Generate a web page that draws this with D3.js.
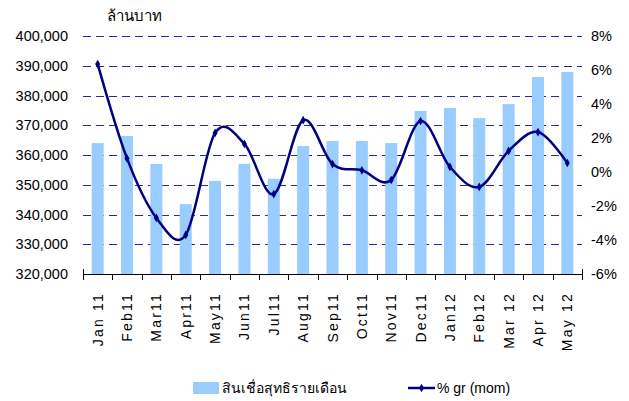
<!DOCTYPE html>
<html>
<head>
<meta charset="utf-8">
<script src="https://cdn.jsdelivr.net/npm/d3@7"></script>
<style>
  body { margin: 0; background: #fff; }
  text { font-family: "Liberation Sans", Arial, sans-serif; fill: #000; }
</style>
</head>
<body>
<div id="chart"></div>
<script>
// data
const months = ["Jan 11", "Feb11", "Mar11", "Apr11", "May11", "Jun11", "Jul11", "Aug11", "Sep11",
                "Oct11", "Nov11", "Dec11", "Jan12", "Feb12", "Mar 12", "Apr 12", "May 12"];
const loans = [364000, 366400, 357000, 343500, 351300, 357000, 352000, 363000, 364700,
               364700, 364000, 374800, 375800, 372400, 377100, 386200, 387900];
const growth = [6.35, 0.8, -2.7, -3.7, 2.3, 1.65, -1.3, 3.05, 0.47,
                0.1, -0.47, 3.0, 0.3, -0.88, 1.24, 2.35, 0.53];
const leftTicks = [320000, 330000, 340000, 350000, 360000, 370000, 380000, 390000, 400000];
const rightTicks = [-6, -4, -2, 0, 2, 4, 6, 8];
const barName = "สินเชื่อสุทธิรายเดือน";
const lineName = "% gr (mom)";
const unitLabel = "ล้านบาท";

const W = 629, H = 401;
const plot = {left: 83, right: 582, top: 36, bottom: 274};

const svg = d3.select("#chart").append("svg")
    .attr("width", W)
    .attr("height", H);

let x = d3.scaleBand()
    .domain(months)
    .range([plot.left, plot.right])
    .paddingInner(0)
    .paddingOuter(0);
let y = d3.scaleLinear()
    .domain([320000, 400000])
    .range([plot.bottom, plot.top]);
let y2 = d3.scaleLinear()
    .domain([-6, 8])
    .range([plot.bottom, plot.top]);

// gridlines from the left axis
svg.append("g")
    .selectAll("line")
    .data(leftTicks.filter(d => d > 320000))
  .enter().append("line")
    .attr("x1", plot.left)
    .attr("x2", plot.right)
    .attr("y1", d => Math.round(y(d)) + 0.5)
    .attr("y2", d => Math.round(y(d)) + 0.5)
    .attr("stroke", "#2b2ba0")
    .attr("stroke-width", 1)
    .attr("stroke-dasharray", "8,5");

// bars
const barW = 12;
svg.selectAll(".bar")
    .data(months)
  .enter().append("rect")
    .attr("class", "bar")
    .attr("x", d => x(d) + x.bandwidth() / 2 - barW / 2)
    .attr("width", barW)
    .attr("y", (d, i) => y(loans[i]))
    .attr("height", (d, i) => plot.bottom - y(loans[i]))
    .attr("fill", "#99ccff");

// bottom axis
const xAxis = svg.append("g")
    .attr("transform", "translate(0," + plot.bottom + ")");
xAxis.append("line")
    .attr("x1", plot.left).attr("x2", plot.right)
    .attr("y1", 0.5).attr("y2", 0.5)
    .attr("stroke", "#000");
const bounds = d3.range(months.length + 1).map(i => plot.left + i * x.step());
xAxis.selectAll(".tk")
    .data(bounds)
  .enter().append("line")
    .attr("x1", d => Math.round(d) + 0.5)
    .attr("x2", d => Math.round(d) + 0.5)
    .attr("y1", (d, i) => (i === 0 || i === months.length) ? -5 : 0)
    .attr("y2", 6)
    .attr("stroke", "#000");
xAxis.selectAll(".lbl")
    .data(months)
  .enter().append("text")
    .attr("transform", d => "translate(" + (x(d) + x.bandwidth() / 2 + 5) + ",18) rotate(-90)")
    .attr("text-anchor", "end")
    .style("font-size", "14px")
    .style("letter-spacing", "2.2px")
    .text(d => d);

// left axis labels
svg.append("g")
    .selectAll("text")
    .data(leftTicks)
  .enter().append("text")
    .attr("x", 68)
    .attr("y", d => y(d) + 5)
    .attr("text-anchor", "end")
    .style("font-size", "14.5px")
    .text(d => d3.format(",")(d));

// right axis labels
svg.append("g")
    .selectAll("text")
    .data(rightTicks)
  .enter().append("text")
    .attr("x", 591)
    .attr("y", d => y2(d) + 5)
    .style("font-size", "14.5px")
    .text(d => d + "%");

svg.append("text")
    .attr("x", 107)
    .attr("y", 21)
    .style("font-size", "15px")
    .text(unitLabel);

// growth line
const line = d3.line()
    .x((d, i) => x(months[i]) + x.bandwidth() / 2)
    .y(d => y2(d))
    .curve(d3.curveCardinal.tension(0));
svg.append("path")
    .datum(growth)
    .attr("d", line)
    .attr("fill", "none")
    .attr("stroke", "#000080")
    .attr("stroke-width", 2.5);
svg.selectAll(".pt")
    .data(growth)
  .enter().append("path")
    .attr("class", "pt")
    .attr("d", d3.symbol().type(d3.symbolDiamond).size(22))
    .attr("transform", (d, i) => "translate(" + (x(months[i]) + x.bandwidth() / 2) + "," + y2(d) + ")")
    .attr("fill", "#000080");

// legend
const lg = svg.append("g");
lg.append("rect")
    .attr("x", 193).attr("y", 382)
    .attr("width", 26).attr("height", 12)
    .attr("fill", "#99ccff");
lg.append("text")
    .attr("x", 222).attr("y", 393)
    .style("font-size", "14px")
    .text(barName);
lg.append("line")
    .attr("x1", 408).attr("x2", 435)
    .attr("y1", 388).attr("y2", 388)
    .attr("stroke", "#000080")
    .attr("stroke-width", 2.5);
lg.append("path")
    .attr("d", d3.symbol().type(d3.symbolDiamond).size(22))
    .attr("transform", "translate(421.5,388)")
    .attr("fill", "#000080");
lg.append("text")
    .attr("x", 437).attr("y", 393)
    .style("font-size", "14px")
    .text(lineName);
</script>
</body>
</html>
